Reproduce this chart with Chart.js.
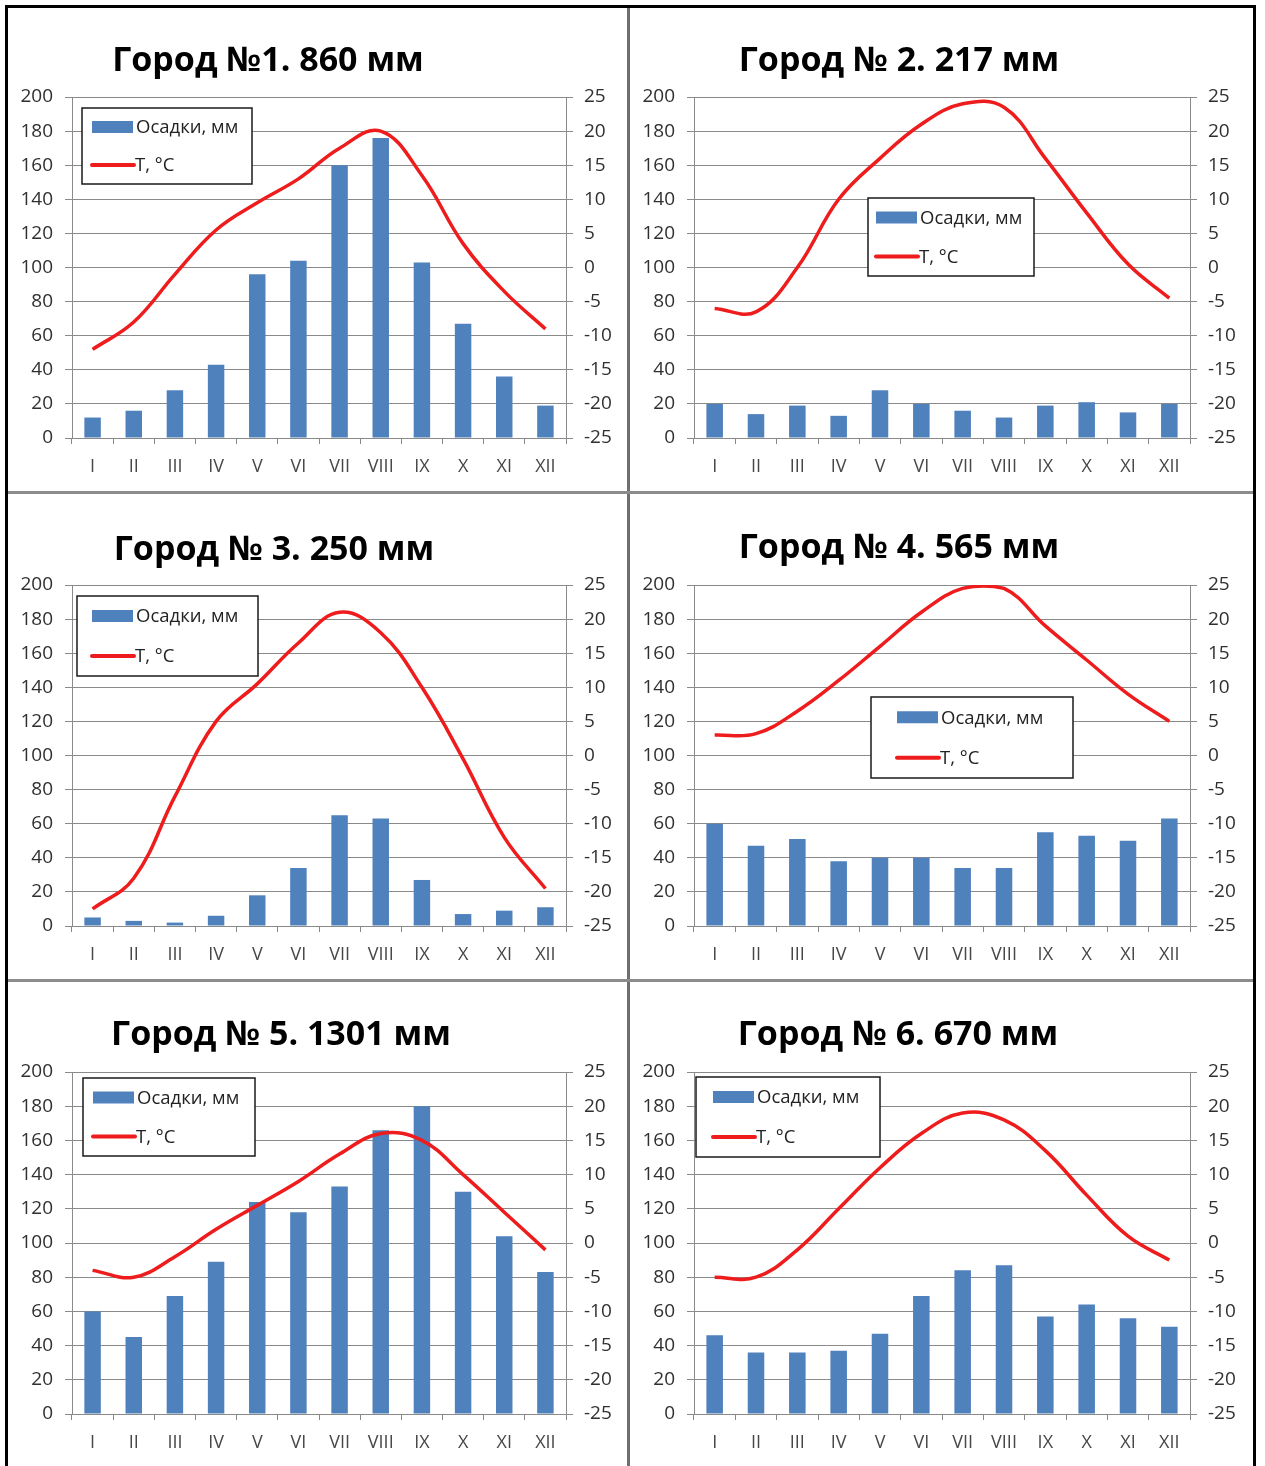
<!DOCTYPE html>
<html>
<head>
<meta charset="utf-8">
<title>Климатограммы</title>
<script src="https://cdn.jsdelivr.net/npm/chart.js@4.4.1/dist/chart.umd.min.js"></script>
<style>
  html, body { margin: 0; padding: 0; background: #fff; }
  body { width: 1265px; height: 1466px; position: relative; overflow: hidden; }
  .frame { position: absolute; left: 5px; top: 5px; width: 1245px; height: 1470px; border: 3px solid #000; border-bottom: none; }
  .vline { position: absolute; left: 627px; top: 8px; width: 3px; height: 1460px; background: #6f6f6f; }
  .hline { position: absolute; left: 8px; width: 1245px; height: 3px; background: #8c8c8c; }
  .cell { position: absolute; }
</style>
</head>
<body>
<div class="frame"></div>
<div class="vline"></div>
<div class="hline" style="top:491px"></div>
<div class="hline" style="top:979px"></div>

<div class="cell" id="c0"><canvas id="chart0"></canvas></div>
<div class="cell" id="c1"><canvas id="chart1"></canvas></div>
<div class="cell" id="c2"><canvas id="chart2"></canvas></div>
<div class="cell" id="c3"><canvas id="chart3"></canvas></div>
<div class="cell" id="c4"><canvas id="chart4"></canvas></div>
<div class="cell" id="c5"><canvas id="chart5"></canvas></div>

<script>
// data
var months = ['I', 'II', 'III', 'IV', 'V', 'VI', 'VII', 'VIII', 'IX', 'X', 'XI', 'XII'];
var titles = ['Город №1. 860 мм', 'Город № 2. 217 мм', 'Город № 3. 250 мм',
              'Город № 4. 565 мм', 'Город № 5. 1301 мм', 'Город № 6. 670 мм'];
var seriesNames = ['Осадки, мм', 'T, °C'];

var precip1 = [12, 16, 28, 43, 96, 104, 160, 176, 103, 67, 36, 19];
var temp1   = [-12, -8, -1, 5.5, 9.5, 13, 17.5, 20, 13.5, 3.5, -3.5, -9];
var precip2 = [20, 14, 19, 13, 28, 20, 16, 12, 19, 21, 15, 20];
var temp2   = [-6, -6.5, 0, 10, 16, 21, 24, 23.5, 16, 8, 0.5, -4.5];
var precip3 = [5, 3, 2, 6, 18, 34, 65, 63, 27, 7, 9, 11];
var temp3   = [-22.5, -18, -6, 5, 10.5, 16.5, 21, 18, 10, -0.5, -12, -19.5];
var precip4 = [60, 47, 51, 38, 40, 40, 34, 34, 55, 53, 50, 63];
var temp4   = [3, 3.2, 6.5, 11, 16, 21, 24.5, 24.5, 19, 14, 9, 5];
var precip5 = [60, 45, 69, 89, 124, 118, 133, 166, 180, 130, 104, 83];
var temp5   = [-4, -5, -2, 2, 5.5, 9, 13, 16, 15, 10, 4.5, -1];
var precip6 = [46, 36, 36, 37, 47, 69, 84, 87, 57, 64, 56, 51];
var temp6   = [-5, -5, -1, 5, 11, 16, 19, 18, 13.5, 7, 1, -2.5];

var precipAxis = { min: 0, max: 200, step: 20 };
var tempAxis = { min: -25, max: 25, step: 5 };

var precips = [precip1, precip2, precip3, precip4, precip5, precip6];
var temps = [temp1, temp2, temp3, temp4, temp5, temp6];

// layout of the six cells (page pixels)
var cells = [
  { left: 8,   top: 8,   w: 619, h: 482, area: [72, 97, 566, 438],    title: [268, 60],  legend: [82, 108, 170, 76, 10] },
  { left: 631, top: 8,   w: 621, h: 482, area: [694, 97, 1190, 438],  title: [899, 60],  legend: [868, 198, 166, 78, 8] },
  { left: 8,   top: 495, w: 619, h: 483, area: [72, 585, 566, 926],   title: [274, 549], legend: [77, 596, 181, 80, 15] },
  { left: 631, top: 495, w: 621, h: 483, area: [694, 585, 1190, 926], title: [899, 547], legend: [871, 697, 202, 81, 26] },
  { left: 8,   top: 983, w: 619, h: 483, area: [72, 1072, 566, 1414], title: [281, 1034], legend: [83, 1078, 172, 78, 10] },
  { left: 631, top: 983, w: 621, h: 483, area: [694, 1072, 1190, 1414], title: [898, 1034], legend: [696, 1077, 184, 80, 17] }
];

var barColor = '#4f81bd';
var lineColor = '#ee1c1c';
var gridColor = '#8a8a8a';
var textColor = '#303030';

Chart.defaults.font.family = '"Open Sans", "DejaVu Sans", sans-serif';
Chart.defaults.font.size = 19;
Chart.defaults.color = textColor;

// title and framed legend drawn where the original has them
var panelDecor = {
  id: 'panelDecor',
  afterDraw: function (chart, args, opts) {
    var ctx = chart.ctx;
    var c = opts.cell;
    ctx.save();
    // title
    ctx.fillStyle = '#000';
    ctx.font = 'bold 34px "Open Sans", sans-serif';
    ctx.textAlign = 'center';
    ctx.textBaseline = 'middle';
    ctx.fillText(opts.text, c.title[0] - c.left, c.title[1] - c.top + 1);

    // legend box
    var L = c.legend;
    var x = L[0] - c.left, y = L[1] - c.top, w = L[2], h = L[3];
    ctx.fillStyle = '#fff';
    ctx.fillRect(x, y, w, h);
    ctx.strokeStyle = '#1a1a1a';
    ctx.lineWidth = 1.5;
    ctx.strokeRect(x, y, w, h);

    var sx = x + L[4];
    var y1 = y + h * 0.25, y2 = y + h * 0.75;
    var ds = chart.data.datasets;
    ctx.fillStyle = ds[0].backgroundColor;
    ctx.fillRect(sx, y1 - 6, 41, 12);
    ctx.strokeStyle = ds[1].borderColor;
    ctx.lineWidth = 4;
    ctx.lineCap = 'round';
    ctx.beginPath();
    ctx.moveTo(sx, y2);
    ctx.lineTo(sx + 42, y2);
    ctx.stroke();

    ctx.fillStyle = '#222';
    ctx.font = '18.5px "Open Sans", sans-serif';
    ctx.textAlign = 'left';
    ctx.fillText(ds[0].label, sx + 44, y1 + 1);
    ctx.fillText(ds[1].label, sx + 43, y2 + 1);
    ctx.restore();
  }
};

function makeChart(i) {
  var c = cells[i];
  var box = document.getElementById('c' + i);
  box.style.left = c.left + 'px';
  box.style.top = c.top + 'px';
  box.style.width = c.w + 'px';
  box.style.height = c.h + 'px';

  var leftW = c.area[0] - c.left;
  var rightW = c.left + c.w - c.area[2];
  var bottomH = c.top + c.h - c.area[3];

  var ctx = document.getElementById('chart' + i).getContext('2d');
  return new Chart(ctx, {
    type: 'bar',
    data: {
      labels: months,
      datasets: [{
        type: 'bar',
        label: seriesNames[0],
        data: precips[i],
        backgroundColor: barColor,
        barPercentage: 0.4,
        categoryPercentage: 1,
        yAxisID: 'y',
        order: 2
      }, {
        type: 'line',
        label: seriesNames[1],
        data: temps[i],
        borderColor: lineColor,
        borderWidth: 3.5,
        pointRadius: 0,
        tension: 0.4,
        fill: false,
        yAxisID: 'y1',
        order: 1
      }]
    },
    options: {
      responsive: true,
      maintainAspectRatio: false,
      animation: false,
      layout: { padding: { top: c.area[1] - c.top, left: 0, right: 0, bottom: 0 } },
      plugins: {
        legend: { display: false },
        title: { display: false },
        tooltip: { enabled: false },
        panelDecor: { cell: c, text: titles[i] }
      },
      scales: {
        x: {
          offset: true,
          grid: { offset: true, drawOnChartArea: false, drawTicks: true, tickLength: 6, color: gridColor },
          border: { display: true, color: gridColor, width: 1 },
          ticks: { padding: 12, color: '#474747', font: { size: 18 } },
          afterFit: function (s) { s.height = bottomH; }
        },
        y: {
          position: 'left',
          min: precipAxis.min,
          max: precipAxis.max,
          ticks: { stepSize: precipAxis.step, padding: 12 },
          grid: { color: gridColor, tickLength: 7, lineWidth: 1 },
          border: { display: true, color: gridColor },
          afterFit: function (s) { s.width = leftW; }
        },
        y1: {
          position: 'right',
          min: tempAxis.min,
          max: tempAxis.max,
          ticks: { stepSize: tempAxis.step, padding: 11 },
          grid: { drawOnChartArea: false, color: gridColor, tickLength: 7 },
          border: { display: true, color: gridColor },
          afterFit: function (s) { s.width = rightW; }
        }
      }
    },
    plugins: [panelDecor]
  });
}

for (var i = 0; i < cells.length; i++) {
  makeChart(i);
}
</script>
</body>
</html>
